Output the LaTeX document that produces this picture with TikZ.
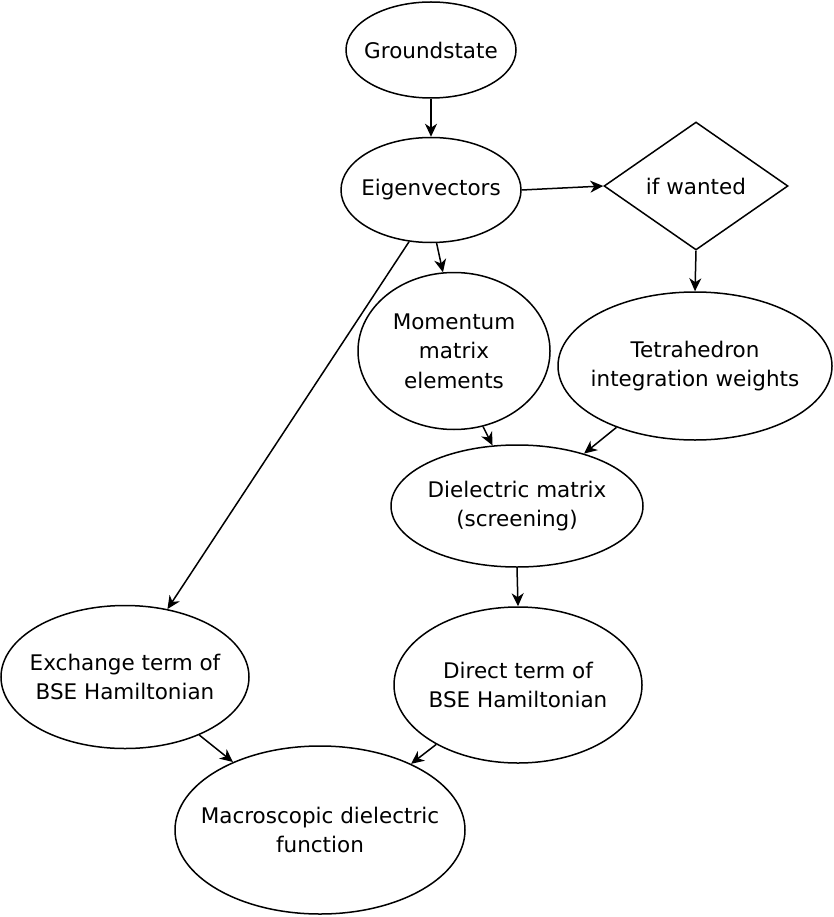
\documentclass[tikz,border=0pt]{standalone}
\usepackage{fontspec}
\setmainfont{DejaVu Sans}
\usetikzlibrary{shapes.geometric,arrows.meta}

\begin{document}
\begin{tikzpicture}[x=1pt,y=-1pt,
    line width=1.5pt,
    every node/.style={font=\fontsize{21.5pt}{29.5pt}\selectfont},
    blob/.style={draw,ellipse,align=center,inner xsep=-20pt,inner ysep=0pt},
    pick/.style={draw,diamond,inner sep=0pt,minimum width=184pt,minimum height=128pt},
    flow/.style={-{Stealth[length=13pt,width=12pt,inset=4pt]}}]
    \useasboundingbox (0,0) rectangle (833,917);
    \node[blob,minimum width=170pt,minimum height=96pt] (ground) at (431,50) {Groundstate};
    \node[blob,minimum width=180pt,minimum height=105pt] (eigen) at (431,190) {Eigenvectors};
    \node[pick] (wanted) at (696,186) {if wanted};
    \node[blob,minimum width=192pt,minimum height=157pt] (momentum) at (454,351) {Momentum\\matrix\\elements};
    \node[blob,minimum width=274pt,minimum height=148pt] (tetra) at (695,366) {Tetrahedron\\integration weights};
    \node[blob,minimum width=252pt,minimum height=122pt] (dielec) at (517,506) {Dielectric matrix\\(screening)};
    \node[blob,minimum width=248pt,minimum height=143pt] (exchange) at (125,677) {Exchange term of\\BSE Hamiltonian};
    \node[blob,minimum width=248pt,minimum height=156pt] (direct) at (518,685) {Direct term of\\BSE Hamiltonian};
    \node[blob,minimum width=290pt,minimum height=168pt] (macro) at (320,830) {Macroscopic dielectric\\function};
    \draw[flow] (ground.south) -- (eigen.north);
    \draw[flow] (eigen.east) -- (wanted.west);
    \draw[flow] (wanted.south) -- (tetra.north);
    \draw[flow] (eigen.276) -- (momentum.98);
    \draw[flow] (eigen.247) -- (exchange.58);
    \draw[flow] (momentum.291) -- (dielec.112);
    \draw[flow] (tetra.218) -- (dielec.38);
    \draw[flow] (dielec.south) -- (direct.north);
    \draw[flow] (exchange.322) -- (macro.142);
    \draw[flow] (direct.216) -- (macro.36);
\end{tikzpicture}
\end{document}
